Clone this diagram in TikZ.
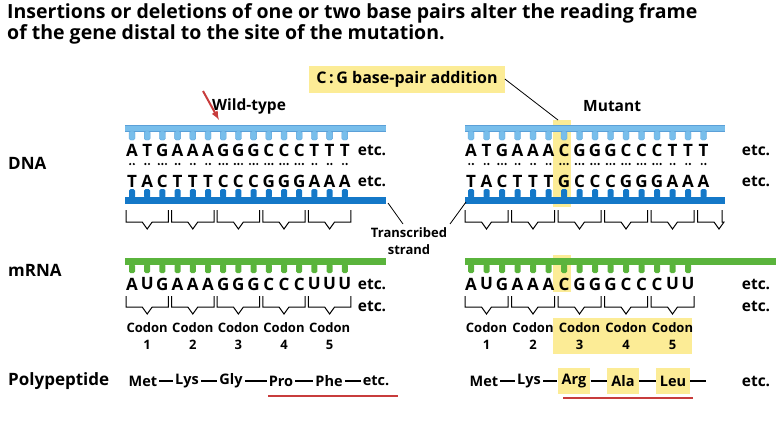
\documentclass[tikz,border=0pt]{standalone}
\usepackage{fontspec}
\setmainfont{Open Sans}
\begin{document}
\begin{tikzpicture}[x=1pt,y=-1pt,
  base/.style={font=\bfseries\fontsize{17}{14}\selectfont,inner sep=0pt,anchor=center},
  etc/.style={font=\bfseries\fontsize{15.5}{14}\selectfont,inner sep=0pt,anchor=center},
  lbl/.style={font=\bfseries\fontsize{17}{16}\selectfont,inner sep=0pt,anchor=west},
  sm/.style={font=\bfseries\fontsize{13}{17}\selectfont,inner sep=0pt,anchor=center,align=center},
  aa/.style={font=\bfseries\fontsize{14.5}{14}\selectfont,inner sep=0pt,anchor=center},
  brc/.style={line width=1pt}]
\definecolor{lb}{RGB}{120,190,235}\definecolor{db}{RGB}{20,120,200}
\definecolor{gr}{RGB}{90,180,60}\definecolor{rd}{RGB}{200,60,60}
\definecolor{yl}{RGB}{252,236,150}
\useasboundingbox (0,0) rectangle (779,423);
% title
\node[lbl,anchor=north west,align=left,font=\bfseries\fontsize{19.5}{21}\selectfont] (title) at (7,3) {Insertions or deletions of one or two base pairs alter the reading frame\\of the gene distal to the site of the mutation.};
\node[lbl] (dna) at (8,163) {DNA};
\node[lbl] (mrna) at (8,270) {mRNA};
\node[lbl] (poly) at (8,381) {Polypeptide};
% highlights
\fill[yl] (553,120) rectangle (571,207);
\fill[yl] (553,255) rectangle (571,292);
\fill[yl] (553,318) rectangle (692,354);
\node[fill=yl,font=\bfseries\fontsize{16}{14}\selectfont,minimum height=27pt,inner xsep=7pt] (add) at (407,79) {C\,:\,G base-pair addition};
\node[lbl,font=\bfseries\fontsize{15.5}{14}\selectfont] (wt) at (212,106) {Wild-type};
\node[lbl,font=\bfseries\fontsize{15.5}{14}\selectfont] (mut) at (583,106) {Mutant};
\coordinate (arrs) at (203,91); \coordinate (arre) at (219,120);
\draw[rd,line width=2pt,-{latex}] (arrs) -- (arre);
\coordinate (addend) at (558,120);
\draw[line width=0.8pt] (add.east) -- (addend);
% ---------- wild type DNA
\fill[lb] (125,125) rectangle (386,131); \draw[db!70,line width=0.4pt] (125,125) -- (386,125) (125,131)--(386,131);
\foreach \l [count=\i from 0] in {A,T,G,A,A,A,G,G,G,C,C,C,T,T,T}{
  \fill[lb,draw=db!70,line width=0.3pt,rounded corners=1.5pt] ({132+\i*15.2-3},131) rectangle ({132+\i*15.2+3},140);
  \node[base] (wa\i) at ({132+\i*15.2},150) {\l};}
\foreach \l [count=\i from 0] in {T,A,C,T,T,T,C,C,C,G,G,G,A,A,A}{
  \fill[db,rounded corners=1.5pt] ({132+\i*15.2-3},189) rectangle ({132+\i*15.2+3},198);
  \node[base] (wb\i) at ({132+\i*15.2},181) {\l};}
\foreach \n [count=\i from 0] in {2,2,3,2,2,2,3,3,3,3,3,3,2,2,2}{
  \pgfmathsetmacro\xc{132+\i*15.2}
  \ifnum\n=2 \fill ({\xc-1.8},164) circle (1.2pt) ({\xc+1.8},164) circle (1.2pt);
  \else \fill ({\xc-3.6},164) circle (1.2pt) (\xc,164) circle (1.2pt) ({\xc+3.6},164) circle (1.2pt);\fi}
\fill[db] (125,197) rectangle (386,204);
\node[etc] (we1) at (372,150) {etc.};\node[etc] (we2) at (372,181) {etc.};
\foreach \k in {0,...,4}{
  \pgfmathsetmacro\xa{132+3*\k*15.2-6}\pgfmathsetmacro\xb{132+(3*\k+2)*15.2+6}
  \pgfmathsetmacro\xm{132+(3*\k+1)*15.2}\pgfmathsetmacro\xl{\xm-5}\pgfmathsetmacro\xr{\xm+5}
  \draw[brc] (\xa,210)--(\xa,222)--(\xl,222)--(\xm,229)--(\xr,222)--(\xb,222)--(\xb,210);}
% ---------- mutant DNA
\fill[lb] (465,125) rectangle (725,131); \draw[db!70,line width=0.4pt] (465,125) -- (725,125) (465,131)--(725,131);
\foreach \l [count=\i from 0] in {A,T,G,A,A,A,C,G,G,G,C,C,C,T,T,T}{
  \fill[lb,draw=db!70,line width=0.3pt,rounded corners=1.5pt] ({471+\i*15.5-3},131) rectangle ({471+\i*15.5+3},140);
  \node[base] (ma\i) at ({471+\i*15.5},150) {\l};}
\foreach \l [count=\i from 0] in {T,A,C,T,T,T,G,C,C,C,G,G,G,A,A,A}{
  \fill[db,rounded corners=1.5pt] ({471+\i*15.5-3},189) rectangle ({471+\i*15.5+3},198);
  \node[base] (mb\i) at ({471+\i*15.5},181) {\l};}
\foreach \n [count=\i from 0] in {2,2,3,2,2,2,3,3,3,3,3,3,3,2,2,2}{
  \pgfmathsetmacro\xc{471+\i*15.5}
  \ifnum\n=2 \fill ({\xc-1.8},164) circle (1.2pt) ({\xc+1.8},164) circle (1.2pt);
  \else \fill ({\xc-3.6},164) circle (1.2pt) (\xc,164) circle (1.2pt) ({\xc+3.6},164) circle (1.2pt);\fi}
\fill[db] (465,197) rectangle (725,204);
\node[etc] (me1) at (756,150) {etc.};\node[etc] (me2) at (756,181) {etc.};
\foreach \k in {0,...,5}{
  \pgfmathsetmacro\xa{471+3*\k*15.5-6}\pgfmathsetmacro\xb{min(471+(3*\k+2)*15.5+6,722)}
  \pgfmathsetmacro\xm{471+(3*\k+1)*15.5}\pgfmathsetmacro\xl{\xm-5}\pgfmathsetmacro\xr{\xm+5}
  \draw[brc] (\xa,210)--(\xa,222)--(\xl,222)--(\xm,229)--(\xr,222)--(\xb,222)--(\xb,210);}
% transcribed strand
\node[sm] (ts) at (409,241) {Transcribed\\strand};
\coordinate (tl) at (388,203); \coordinate (tr) at (466,202);
\draw[line width=0.8pt] (tl) -- (403,224);
\draw[line width=0.8pt] (tr) -- (450,224);
% ---------- mRNA wild
\fill[gr] (125,258) rectangle (386,265);
\foreach \l [count=\i from 0] in {A,U,G,A,A,A,G,G,G,C,C,C,U,U,U}{
  \fill[gr,rounded corners=1.5pt] ({132+\i*15.2-3},264) rectangle ({132+\i*15.2+3},273);
  \node[base] (wr\i) at ({132+\i*15.2},284) {\l};}
\node[etc] (wre1) at (372,284) {etc.};\node[etc] (wre2) at (372,306) {etc.};
\foreach \k in {0,...,4}{
  \pgfmathsetmacro\xa{132+3*\k*15.2-6}\pgfmathsetmacro\xb{132+(3*\k+2)*15.2+6}
  \pgfmathsetmacro\xm{132+(3*\k+1)*15.2}\pgfmathsetmacro\xl{\xm-5}\pgfmathsetmacro\xr{\xm+5}
  \draw[brc] (\xa,296)--(\xa,307)--(\xl,307)--(\xm,314)--(\xr,307)--(\xb,307)--(\xb,296);
  \pgfmathtruncatemacro\nn{\k+1}
  \node[sm] (wc\k) at (\xm,336) {Codon\\\nn};}
% ---------- mRNA mutant
\fill[gr] (465,258) rectangle (776,265);
\foreach \l [count=\i from 0] in {A,U,G,A,A,A,C,G,G,G,C,C,C,U,U}{
  \fill[gr,rounded corners=1.5pt] ({471+\i*15.5-3},264) rectangle ({471+\i*15.5+3},273);
  \node[base] (mr\i) at ({471+\i*15.5},284) {\l};}
\node[etc] (mre1) at (756,284) {etc.};\node[etc] (mre2) at (756,306) {etc.};
\foreach \k in {0,...,4}{
  \pgfmathsetmacro\xa{471+3*\k*15.5-6}\pgfmathsetmacro\xb{471+(3*\k+2)*15.5+6}
  \pgfmathsetmacro\xm{471+(3*\k+1)*15.5}\pgfmathsetmacro\xl{\xm-5}\pgfmathsetmacro\xr{\xm+5}
  \draw[brc] (\xa,296)--(\xa,307)--(\xl,307)--(\xm,314)--(\xr,307)--(\xb,307)--(\xb,296);
  \pgfmathtruncatemacro\nn{\k+1}
  \node[sm] (mc\k) at (\xm,336) {Codon\\\nn};}
% ---------- polypeptides
\foreach \t/\x [count=\i] in {Met/143,Lys/187,Gly/231,Pro/281,Phe/329,etc./376}
  \node[aa] (wp\i) at (\x,381) {\t};
\foreach \i [evaluate=\i as \j using int(\i+1)] in {1,...,5}
  \draw[line width=1.2pt] ([xshift=2pt]wp\i.east) -- ([xshift=-2pt]wp\j.west);
\coordinate (wr1) at (268,396); \coordinate (wr2) at (398,396);
\draw[rd,line width=2.4pt] (wr1) -- (wr2);
\node[aa] (mp1) at (484,381) {Met};
\node[aa] (mp2) at (529,381) {Lys};
\node[aa,fill=yl,minimum height=26pt,inner xsep=4pt] (mp3) at (574,381) {Arg};
\node[aa,fill=yl,minimum height=26pt,inner xsep=4pt] (mp4) at (623,381) {Ala};
\node[aa,fill=yl,minimum height=26pt,inner xsep=4pt] (mp5) at (673,381) {Leu};
\draw[line width=1.2pt] ([xshift=2pt]mp1.east) -- ([xshift=-2pt]mp2.west);
\draw[line width=1.2pt] ([xshift=2pt]mp2.east) -- (mp3.west);
\draw[line width=1.2pt] (mp3.east) -- (mp4.west);
\draw[line width=1.2pt] (mp4.east) -- (mp5.west);
\coordinate (mpd) at (706,381);
\draw[line width=1.2pt] (mp5.east) -- (mpd);
\node[etc] (mpe) at (756,381) {etc.};
\coordinate (mr1) at (563,398); \coordinate (mr2) at (693,398);
\draw[rd,line width=2.4pt] (mr1) -- (mr2);
\end{tikzpicture}
\end{document}
